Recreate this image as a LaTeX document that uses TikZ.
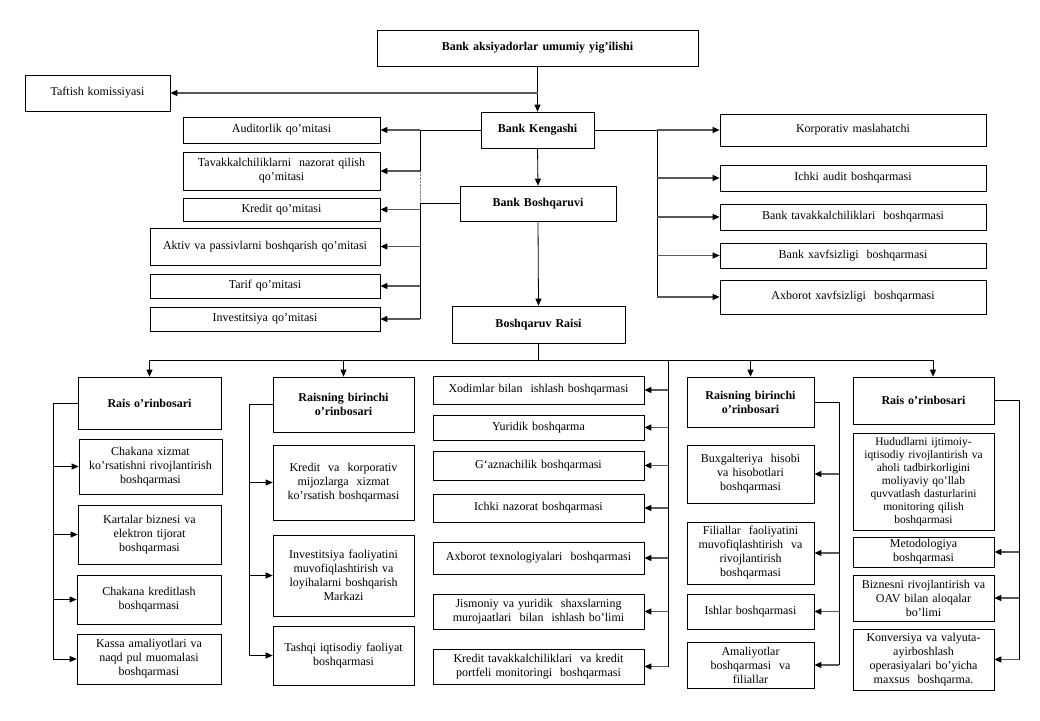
\documentclass[tikz,border=0pt]{standalone}
\usepackage{fontspec}
\setmainfont{Liberation Serif}
\usetikzlibrary{arrows.meta}
\tikzset{
  box/.style={draw, line width=0.7pt, inner sep=0pt, align=center, font=\fontsize{12}{14}\selectfont},
  bbox/.style={box, font=\fontsize{12}{14}\selectfont\bfseries},
  sbox/.style={box, font=\fontsize{11.5}{13}\selectfont},
  ln/.style={line width=0.8pt},
  arr/.style={ln, -{Triangle[length=7pt,width=6pt]}},
  stub/.style={line width=1.2pt, draw=black!65, -{Triangle[length=7pt,width=6pt,color=black]}},
  dots/.style={densely dotted, line width=0.4pt, draw=black!50}
}
\newcommand{\bx}[7][box]{%
  \pgfmathsetmacro{\bxw}{#5-#3}\pgfmathsetmacro{\bxh}{#6-#4}\pgfmathsetmacro{\bxt}{#5-#3-4}%
  \node[#1,minimum width=\bxw pt,minimum height=\bxh pt,text width=\bxt pt] (#2) at ({(#3+#5)/2},{(#4+#6)/2}) {#7};}
\begin{document}
\begin{tikzpicture}[x=1pt,y=-1pt]
\fill[white] (0,0) rectangle (1040,720);
\useasboundingbox (0,0) rectangle (1040,720);

% top
\bx[bbox]{A}{377}{30}{698}{66}{Bank aksiyadorlar umumiy yig’ilishi}
\bx{T}{25}{75}{170}{111}{Taftish komissiyasi}
\bx[bbox]{K}{481}{112}{594}{148}{Bank Kengashi}
\bx[bbox]{B}{460}{186}{616}{221}{Bank Boshqaruvi}
\bx[bbox]{R}{452}{306}{625}{343}{Boshqaruv Raisi}

% committees
\bx{c1}{183}{117}{380}{143}{Auditorlik qo’mitasi}
\bx{c2}{183}{152}{380}{190}{Tavakkalchiliklarni\ \ nazorat qilish\\qo’mitasi}
\bx{c3}{183}{198}{380}{221}{Kredit qo’mitasi}
\bx{c4}{150}{228}{380}{265}{Aktiv va passivlarni boshqarish qo’mitasi}
\bx{c5}{150}{274}{380}{298}{Tarif qo’mitasi}
\bx{c6}{150}{307}{380}{331}{Investitsiya qo’mitasi}

% right departments
\bx{d1}{720}{114}{986}{146}{Korporativ maslahatchi}
\bx{d2}{720}{165}{986}{191}{Ichki audit boshqarmasi}
\bx{d3}{720}{204}{986}{230}{Bank tavakkalchiliklari\ \ boshqarmasi}
\bx{d4}{720}{243}{986}{268}{Bank xavfsizligi\ \ boshqarmasi}
\bx{d5}{720}{280}{986}{314}{Axborot xavfsizligi\ \ boshqarmasi}

% deputies
\bx[bbox]{P1}{78}{377}{221}{429}{Rais o’rinbosari}
\bx[bbox]{P2}{273}{377}{414}{432}{Raisning birinchi\\o’rinbosari}
\bx[bbox]{P4}{687}{377}{814}{427}{Raisning birinchi\\o’rinbosari}
\bx[bbox]{P5}{853}{377}{994}{424}{Rais o’rinbosari}

% column 1
\bx{e1}{79}{439}{222}{494}{Chakana xizmat\\ko’rsatishni rivojlantirish\\boshqarmasi}
\bx{e2}{78}{505}{221}{564}{Kartalar biznesi va\\elektron tijorat\\boshqarmasi}
\bx{e3}{77}{575}{221}{624}{Chakana kreditlash\\boshqarmasi}
\bx{e4}{77}{634}{221}{684}{Kassa amaliyotlari va\\naqd pul muomalasi\\boshqarmasi}

% column 2
\bx{f1}{273}{445}{414}{520}{Kredit\ \ va\ \ korporativ\\mijozlarga\ \ xizmat\\ko’rsatish boshqarmasi}
\bx{f2}{273}{535}{414}{616}{Investitsiya faoliyatini\\muvofiqlashtirish va\\loyihalarni boshqarish\\Markazi}
\bx{f3}{273}{626}{414}{685}{Tashqi iqtisodiy faoliyat\\boshqarmasi}

% middle column
\bx{m1}{433}{376}{644}{404}{Xodimlar bilan\ \ ishlash boshqarmasi}
\bx{m2}{433}{415}{644}{440}{Yuridik boshqarma}
\bx{m3}{433}{451}{644}{480}{G`aznachilik boshqarmasi}
\bx{m4}{433}{494}{644}{522}{Ichki nazorat boshqarmasi}
\bx{m5}{433}{542}{644}{574}{Axborot texnologiyalari\ \ boshqarmasi}
\bx{m6}{433}{594}{644}{629}{Jismoniy va yuridik\ \ shaxslarning\\murojaatlari\ \ bilan\ \ ishlash bo’limi}
\bx{m7}{433}{649}{644}{684}{Kredit tavakkalchiliklari\ \ va kredit\\portfeli monitoringi\ \ boshqarmasi}

% column 4
\bx{g1}{687}{445}{814}{503}{Buxgalteriya\ \ hisobi\\va hisobotlari\\boshqarmasi}
\bx{g2}{687}{522}{814}{584}{Filiallar\ \ faoliyatini\\muvofiqlashtirish\ \ va\\rivojlantirish\\boshqarmasi}
\bx{g3}{687}{594}{814}{629}{Ishlar boshqarmasi}
\bx{g4}{687}{642}{814}{688}{Amaliyotlar\\boshqarmasi\ \ va\\filiallar}

% column 5
\bx[sbox]{h1}{853}{433}{994}{530}{Hududlarni ijtimoiy-\\iqtisodiy rivojlantirish va\\aholi tadbirkorligini\\moliyaviy qo’llab\\quvvatlash dasturlarini\\monitoring qilish\\boshqarmasi}
\bx{h2}{853}{537}{994}{567}{Metodologiya\\boshqarmasi}
\bx{h3}{853}{575}{994}{621}{Biznesni rivojlantirish va\\OAV bilan aloqalar\\bo’limi}
\bx{h4}{853}{629}{994}{690}{Konversiya va valyuta-\\ayirboshlash\\operasiyalari bo’yicha\\maxsus\ \ boshqarma.}

% ---- connectors: top
\draw[arr] (A.south) -- (K.north);
\draw[stub] (A.south |- T.east) -- (T.east);
\draw[arr] (K.south) -- (B.north);
\draw[arr] (B.south) -- (R.north);

% left committees
\coordinate (lb) at (420,0);
\draw[ln] (K.west) -- (K.west -| lb) -- (lb |- c2.east);
\draw[dots] (lb |- c2.east) -- (lb |- B.west);
\draw[ln] (B.west) -- (B.west -| lb) -- (lb |- c6.east);
\foreach \n in {c1,c2,c3,c4,c5,c6} {\draw[stub] (lb |- \n.east) -- (\n.east);}

% right departments
\coordinate (rb) at (657,0);
\draw[ln] (K.east) -- (K.east -| rb) -- (rb |- d5.west);
\foreach \n in {d1,d2,d3,d4,d5} {\draw[stub] (rb |- \n.west) -- (\n.west);}

% bottom bus
\coordinate (bus) at (0,360);
\coordinate (b5) at (933,360);
\draw[ln] (R.south) -- (R.south |- bus);
\draw[ln] (P1.north |- bus) -- (b5);
\draw[arr] (P1.north |- bus) -- (P1.north);
\draw[arr] (P2.north |- bus) -- (P2.north);
\draw[arr] (P4.north |- bus) -- (P4.north);
\draw[arr] (b5) -- (b5 |- P5.north);

% middle column
\coordinate (mb) at (668,360);
\draw[ln] (mb) -- (mb |- m7.east);
\foreach \n in {m1,m2,m3,m4,m5,m6,m7} {\draw[stub] (mb |- \n.east) -- (\n.east);}

% column 1
\coordinate (eb) at (53,0);
\draw[ln] (P1.west) -- (P1.west -| eb) -- (eb |- e4.west);
\foreach \n in {e1,e2,e3,e4} {\draw[arr] (eb |- \n.west) -- (\n.west);}

% column 2
\coordinate (fb) at (249,0);
\draw[ln] (P2.west) -- (P2.west -| fb) -- (fb |- f3.west);
\foreach \n in {f1,f2,f3} {\draw[arr] (fb |- \n.west) -- (\n.west);}

% column 4
\coordinate (gb) at (839,0);
\draw[ln] (P4.east) -- (P4.east -| gb) -- (gb |- g4.east);
\foreach \n in {g1,g2,g3,g4} {\draw[stub] (gb |- \n.east) -- (\n.east);}

% column 5
\coordinate (hb) at (1019,0);
\draw[ln] (P5.east) -- (P5.east -| hb) -- (hb |- h4.east);
\foreach \n in {h2,h3,h4} {\draw[stub] (hb |- \n.east) -- (\n.east);}
\end{tikzpicture}
\end{document}
